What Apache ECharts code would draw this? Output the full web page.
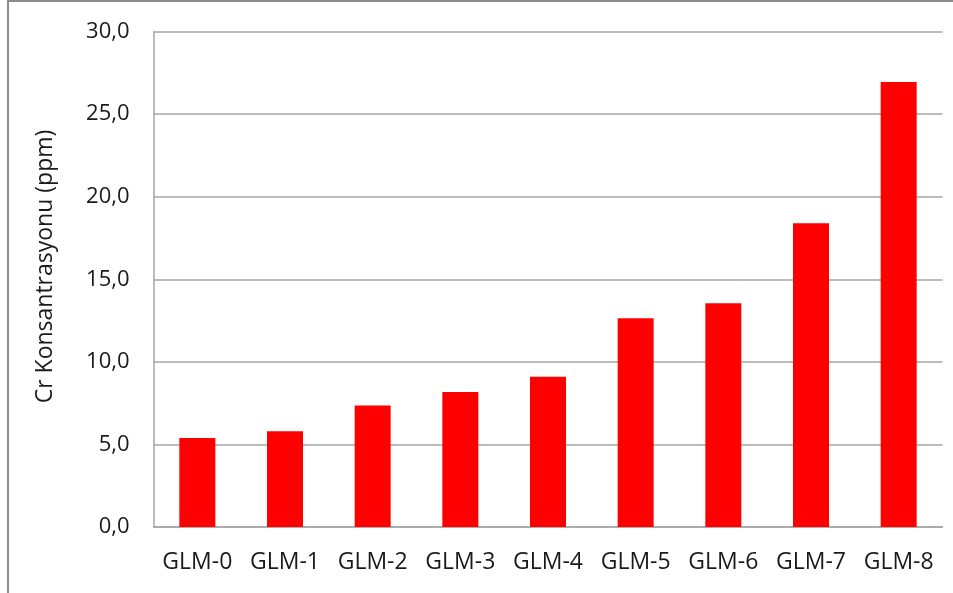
<!DOCTYPE html>
<html>
<head>
<meta charset="utf-8">
<script src="https://cdn.jsdelivr.net/npm/echarts@6/dist/echarts.min.js"></script>
<style>
html,body{margin:0;padding:0;background:#fff;}
#c{width:953px;height:593px;}
</style>
</head>
<body>
<div id="c"></div>
<script>
const categories = ['GLM-0','GLM-1','GLM-2','GLM-3','GLM-4','GLM-5','GLM-6','GLM-7','GLM-8'];
const crValues = [5.39, 5.80, 7.35, 8.18, 9.09, 12.64, 13.55, 18.39, 26.95];
const yTicks = [0, 5, 10, 15, 20, 25, 30];
const yAxisTitle = 'Cr Konsantrasyonu (ppm)';

const chart = echarts.init(document.getElementById('c'), null, {renderer:'canvas'});
const fontFam = '"Open Sans", "Liberation Sans", sans-serif';
chart.setOption({
  animation: false,
  backgroundColor: '#fff',
  graphic: [{
    type: 'rect',
    shape: {x: 8, y: 1, width: 960, height: 620},
    style: {fill: 'none', stroke: '#8c8c8c', lineWidth: 2},
    silent: true
  }, {
    type: 'text',
    x: 45, y: 266.5,
    rotation: Math.PI / 2,
    style: {
      text: yAxisTitle,
      fill: '#1a1a1a',
      font: '23px "Open Sans", "Liberation Sans", sans-serif',
      align: 'center',
      verticalAlign: 'middle'
    },
    silent: true
  }],
  grid: {left: 153.5, right: 10.5, top: 31.5, bottom: 66, containLabel: false},
  xAxis: {
    type: 'category',
    data: categories,
    axisLine: {lineStyle: {color: '#a6a6a6', width: 1.5}},
    axisTick: {show: false},
    axisLabel: {color: '#1a1a1a', fontSize: 23, fontFamily: fontFam, margin: 24, interval: 0, hideOverlap: false}
  },
  yAxis: {
    type: 'value',
    min: yTicks[0],
    max: yTicks[yTicks.length - 1],
    interval: 5,
    axisLine: {show: true, lineStyle: {color: '#a6a6a6', width: 1.5}},
    axisTick: {show: false},
    splitLine: {lineStyle: {color: '#a6a6a6', width: 1.5}},
    axisLabel: {
      color: '#1a1a1a', fontSize: 22, fontFamily: fontFam, margin: 24,
      formatter: v => v.toFixed(1).replace('.', ',')
    }
  },
  series: [{
    type: 'bar',
    data: crValues,
    barWidth: 36,
    itemStyle: {color: '#ff0000'}
  }]
});
</script>
</body>
</html>
